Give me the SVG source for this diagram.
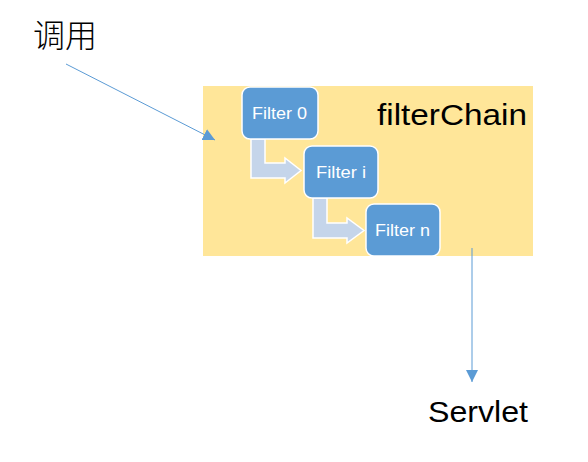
<svg xmlns="http://www.w3.org/2000/svg" width="588" height="462" viewBox="0 0 588 462">
<style>
.box{fill:#5B9BD5;stroke:#fff;stroke-width:1.5}
.lbl{fill:#fff;font-family:"Liberation Sans",Arial,sans-serif;font-size:17px}
.bend{fill:#C5D5EA;stroke:#fff;stroke-width:1.5}
.conn{stroke:#5B9BD5;stroke-width:1;fill:none}
.big{fill:#000;font-family:"Liberation Sans",Arial,sans-serif;font-size:30px}
</style>
<defs>
<marker id="ah" viewBox="0 0 10 10" refX="10" refY="5" markerWidth="12" markerHeight="12" markerUnits="userSpaceOnUse" orient="auto">
<path d="M0,0 L10,5 L0,10 Z" fill="#5B9BD5"/>
</marker>
</defs>
<rect width="588" height="462" fill="#fff"/>
<g id="filterChain">
<rect x="203" y="86" width="330" height="170" fill="#FFE699"/>
<text class="big" x="377" y="125" textLength="150" lengthAdjust="spacingAndGlyphs">filterChain</text>
</g>
<g id="flow">
<path class="bend" d="M251,139 L265,139 L265,163 L285,163 L285,158 L301,170.5 L285,183 L285,178 L251,178 Z"/>
<path class="bend" d="M313,198 L327,198 L327,223 L347,223 L347,218 L364,230.5 L347,243 L347,238 L313,238 Z"/>
</g>
<g id="filter0">
<rect class="box" x="242" y="87" width="76" height="52" rx="8"/>
<text class="lbl" x="252" y="119" textLength="55" lengthAdjust="spacingAndGlyphs">Filter 0</text>
</g>
<g id="filteri">
<rect class="box" x="304" y="146" width="74" height="52" rx="8"/>
<text class="lbl" x="316" y="178" textLength="50" lengthAdjust="spacingAndGlyphs">Filter i</text>
</g>
<g id="filtern">
<rect class="box" x="366" y="204" width="74" height="52" rx="8"/>
<text class="lbl" x="375" y="236" textLength="55" lengthAdjust="spacingAndGlyphs">Filter n</text>
</g>
<g id="call">
<text x="33" y="47" font-family="'Noto Sans CJK SC',sans-serif" font-size="32" font-weight="300" fill="#000">调用</text>
</g>
<g id="servlet">
<text class="big" x="428" y="422" textLength="100" lengthAdjust="spacingAndGlyphs">Servlet</text>
</g>
<g id="connectors">
<line class="conn" x1="66" y1="64" x2="215" y2="140" marker-end="url(#ah)"/>
<line class="conn" x1="472" y1="248" x2="472" y2="382" marker-end="url(#ah)"/>
</g>
</svg>
